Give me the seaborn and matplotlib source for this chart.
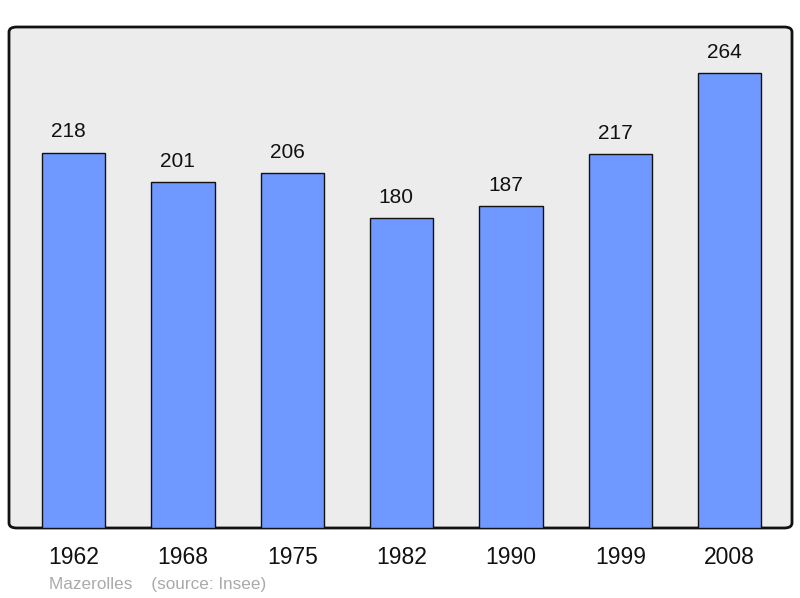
import matplotlib
matplotlib.use("Agg")
import matplotlib.pyplot as plt
from matplotlib.patches import FancyBboxPatch
import seaborn as sns
import pandas as pd

years = ["1962", "1968", "1975", "1982", "1990", "1999", "2008"]
population = [218, 201, 206, 180, 187, 217, 264]

df = pd.DataFrame({"year": years, "pop": population})

sns.set_theme(style="white")
plt.rcParams["font.family"] = ["Liberation Sans", "DejaVu Sans"]

fig = plt.figure(figsize=(8, 5.98), dpi=100)
ax = fig.add_axes([9 / 800, 70 / 598, 783 / 800, 501 / 598])
ax.set_facecolor("none")

# rounded grey frame
frame = FancyBboxPatch((0, 0), 1, 1, boxstyle="round,pad=0,rounding_size=0.01",
                       transform=ax.transAxes, facecolor="#ececec",
                       edgecolor="#111111", linewidth=2, zorder=0, clip_on=False)
ax.add_patch(frame)

sns.barplot(data=df, x="year", y="pop", color="#7099ff", saturation=1,
            width=0.58, edgecolor="#111111", linewidth=1, ax=ax, zorder=2)

# value labels sit a bit left of the bar centre in the original
for i, v in enumerate(population):
    ax.annotate(str(v), (i, v), xytext=(-3.8, 11), textcoords="offset points",
                ha="center", va="baseline", fontsize=15, color="#111111")

ax.set_xlim(-0.59, 6.57)
ax.set_ylim(0, 291)
for s in ax.spines.values():
    s.set_visible(False)
ax.set_yticks([])
ax.set_xlabel("")
ax.set_ylabel("")
ax.tick_params(axis="x", length=0, pad=13, labelsize=16.5, labelcolor="#111111")

fig.text(49 / 800, 1 - 584 / 598, "Mazerolles    (source: Insee)", fontsize=12.3,
         color="#aaaaaa", ha="left", va="center")

fig.savefig("out.png", dpi=100)
